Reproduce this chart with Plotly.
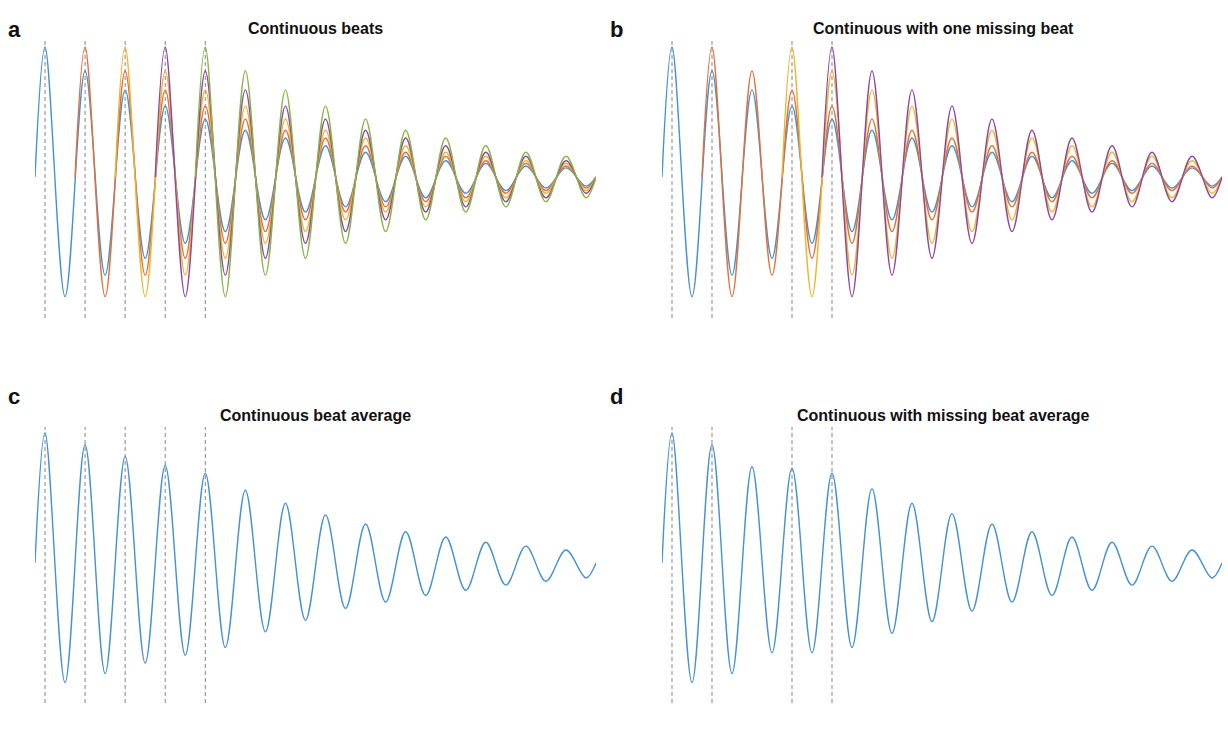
import plotly.graph_objects as go

# ---- data -------------------------------------------------------------
# Single-beat impulse response: successive peak / trough values (normalised),
# one peak per beat period, trough half a period later.
beat_peaks = [1.00, 0.815, 0.67, 0.545, 0.445, 0.36, 0.30, 0.24, 0.19, 0.16, 0.125, 0.105, 0.085, 0.07]
beat_troughs = [-0.92, -0.755, -0.625, -0.51, -0.42, -0.33, -0.27, -0.23, -0.19, -0.16, -0.125, -0.105, -0.085, -0.07]

# Beat onsets (in beat periods)
onsets_continuous = [0, 1, 2, 3, 4]
onsets_missing = [0, 1, 3, 4]

# Averaged responses: peak / trough values
avg_cont_peaks = [1.00, 0.91, 0.82, 0.75, 0.69, 0.56, 0.46, 0.37, 0.30, 0.24, 0.20, 0.16, 0.13, 0.10]
avg_cont_troughs = [-0.92, -0.85, -0.77, -0.71, -0.65, -0.53, -0.44, -0.35, -0.30, -0.25, -0.21, -0.17, -0.14, -0.115]
avg_miss_peaks = [1.00, 0.91, 0.74, 0.73, 0.69, 0.57, 0.46, 0.38, 0.30, 0.24, 0.20, 0.16, 0.13, 0.10]
avg_miss_troughs = [-0.92, -0.85, -0.69, -0.69, -0.65, -0.54, -0.45, -0.37, -0.30, -0.25, -0.21, -0.17, -0.14, -0.115]

t_end = 13.75          # end of the recording (beat periods)
beat_colors = ["#4592d0", "#e2703c", "#efb52e", "#8e48a2", "#86b648"]
colors_missing = ["#4592d0", "#e2703c", "#efb52e", "#8e48a2"]

titles = ["Continuous beats", "Continuous with one missing beat",
          "Continuous beat average", "Continuous with missing beat average"]
letters = ["a", "b", "c", "d"]


def waveform(onset, peaks, troughs):
    """Extremum points of a response starting at `onset`, truncated at t_end."""
    xs, ys = [onset - 0.25], [0.0]
    j = 0
    while True:
        t = onset + 0.5 * j
        if t > t_end - 0.25 + 1e-9 or j // 2 >= len(peaks):
            break
        xs.append(t)
        ys.append(peaks[j // 2] if j % 2 == 0 else troughs[j // 2])
        j += 1
    xs.append(t_end)
    ys.append(0.0)
    return xs, ys


# ---- layout geometry (pixels) ----------------------------------------
W, H = 1228, 737
col_px = [(35, 596), (662, 1222)]
row_px = [(40, 318, 177), (427, 703, 563)]   # top, bottom, zero line
unit_px = 130.0

fig = go.Figure()

panels = [
    (0, 0, [(o, c) for o, c in zip(onsets_continuous, beat_colors)], None),
    (0, 1, [(o, c) for o, c in zip(onsets_missing, colors_missing)], None),
    (1, 0, None, (avg_cont_peaks, avg_cont_troughs)),
    (1, 1, None, (avg_miss_peaks, avg_miss_troughs)),
]
dash_onsets = [onsets_continuous, onsets_missing, onsets_continuous, onsets_missing]

for i, (r, c, beats, avg) in enumerate(panels):
    n = i + 1
    xa = "x" if n == 1 else f"x{n}"
    ya = "y" if n == 1 else f"y{n}"
    x0p, x1p = col_px[c]
    topp, botp, zerop = row_px[r]
    fig.update_layout(**{
        ("xaxis" if n == 1 else f"xaxis{n}"): dict(
            domain=[x0p / W, x1p / W], range=[-0.25, t_end], visible=False,
            anchor=ya, fixedrange=True),
        ("yaxis" if n == 1 else f"yaxis{n}"): dict(
            domain=[1 - botp / H, 1 - topp / H],
            range=[(zerop - botp) / unit_px, (zerop - topp) / unit_px],
            visible=False, anchor=xa, fixedrange=True),
    })

    # beat markers
    for o in dash_onsets[i]:
        fig.add_shape(type="line", xref=xa, yref=f"{ya} domain", x0=o, x1=o, y0=0, y1=1,
                      line=dict(color="#909090", width=1.1, dash="4px,3px"), layer="below")

    if beats is not None:
        for onset, col in beats:
            xs, ys = waveform(onset, beat_peaks, beat_troughs)
            fig.add_trace(go.Scatter(x=xs, y=ys, mode="lines", xaxis=xa, yaxis=ya,
                                     line=dict(color=col, width=1.4, shape="spline", smoothing=1),
                                     showlegend=False, hoverinfo="skip"))
    else:
        xs, ys = waveform(0, avg[0], avg[1])
        fig.add_trace(go.Scatter(x=xs, y=ys, mode="lines", xaxis=xa, yaxis=ya,
                                 line=dict(color="#4592d0", width=1.4, shape="spline", smoothing=1),
                                 showlegend=False, hoverinfo="skip"))

# titles and panel letters
title_pos = [(315, 28), (943, 28), (315, 415), (943, 415)]
letter_pos = [(14, 29), (616, 29), (14, 396), (616, 396)]
for k in range(4):
    tx, ty = title_pos[k]
    fig.add_annotation(text=f"<b>{titles[k]}</b>", xref="paper", yref="paper",
                       x=tx / W, y=1 - ty / H, xanchor="center", yanchor="middle",
                       showarrow=False, font=dict(family="Liberation Sans, Arial", size=16, color="#111"))
    lx, ly = letter_pos[k]
    fig.add_annotation(text=f"<b>{letters[k]}</b>", xref="paper", yref="paper",
                       x=lx / W, y=1 - ly / H, xanchor="center", yanchor="middle",
                       showarrow=False, font=dict(family="Liberation Sans, Arial", size=22, color="#111"))

fig.update_layout(width=W, height=H, margin=dict(l=0, r=0, t=0, b=0),
                  paper_bgcolor="white", plot_bgcolor="white")

fig.write_html("out.html", config={"displayModeBar": False})
